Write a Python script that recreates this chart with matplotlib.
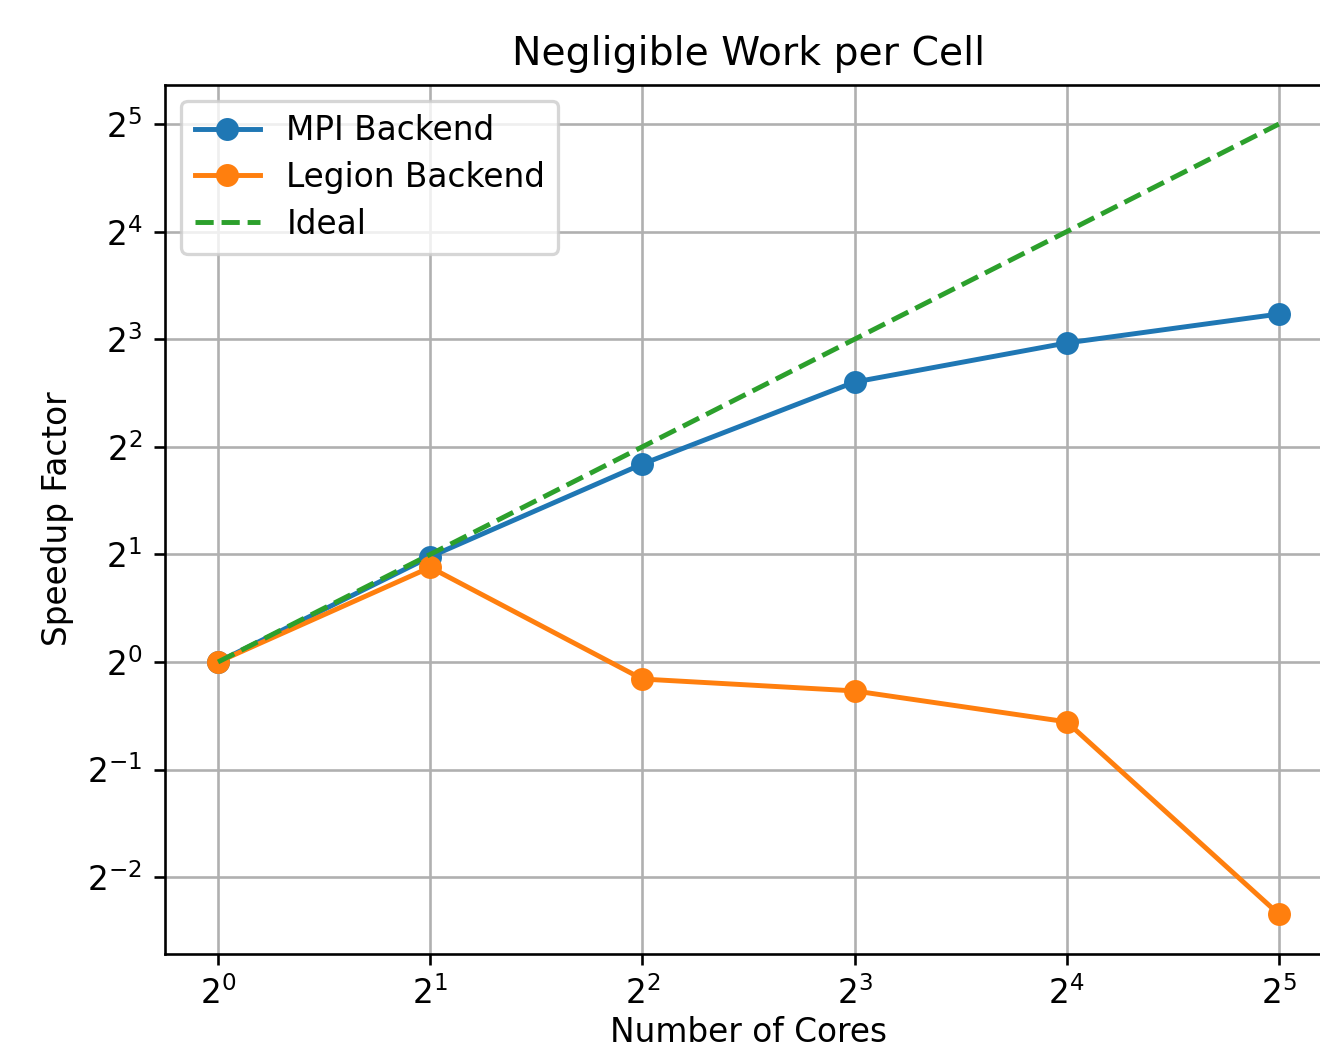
import matplotlib
matplotlib.use("Agg")
import matplotlib.pyplot as plt

cores = [1, 2, 4, 8, 16, 32]
mpi_speedup = [1.0, 1.97, 3.58, 6.07, 7.81, 9.41]
legion_speedup = [1.0, 1.84, 0.896, 0.83, 0.68, 0.197]
ideal = [1, 2, 4, 8, 16, 32]

DPI = 236
fig = plt.figure(figsize=(1320 / DPI, 1049 / DPI), dpi=DPI)
ax = fig.add_axes([0.125, 0.0909, 0.884, 0.8285])
ax.plot(cores, mpi_speedup, "o-", color="#1f77b4", label="MPI Backend")
ax.plot(cores, legion_speedup, "o-", color="#ff7f0e", label="Legion Backend")
ax.plot(cores, ideal, "--", color="#2ca02c", label="Ideal")
ax.set_xscale("log", base=2)
ax.set_yscale("log", base=2)
ax.set_xlabel("Number of Cores", labelpad=1.5)
ax.set_ylabel("Speedup Factor")
ax.set_title("Negligible Work per Cell")
ax.grid(True, which="major", color="#b0b0b0", lw=0.8)
ax.legend(loc="upper left", labelspacing=0.42)
fig.savefig("out.png", dpi=DPI)
